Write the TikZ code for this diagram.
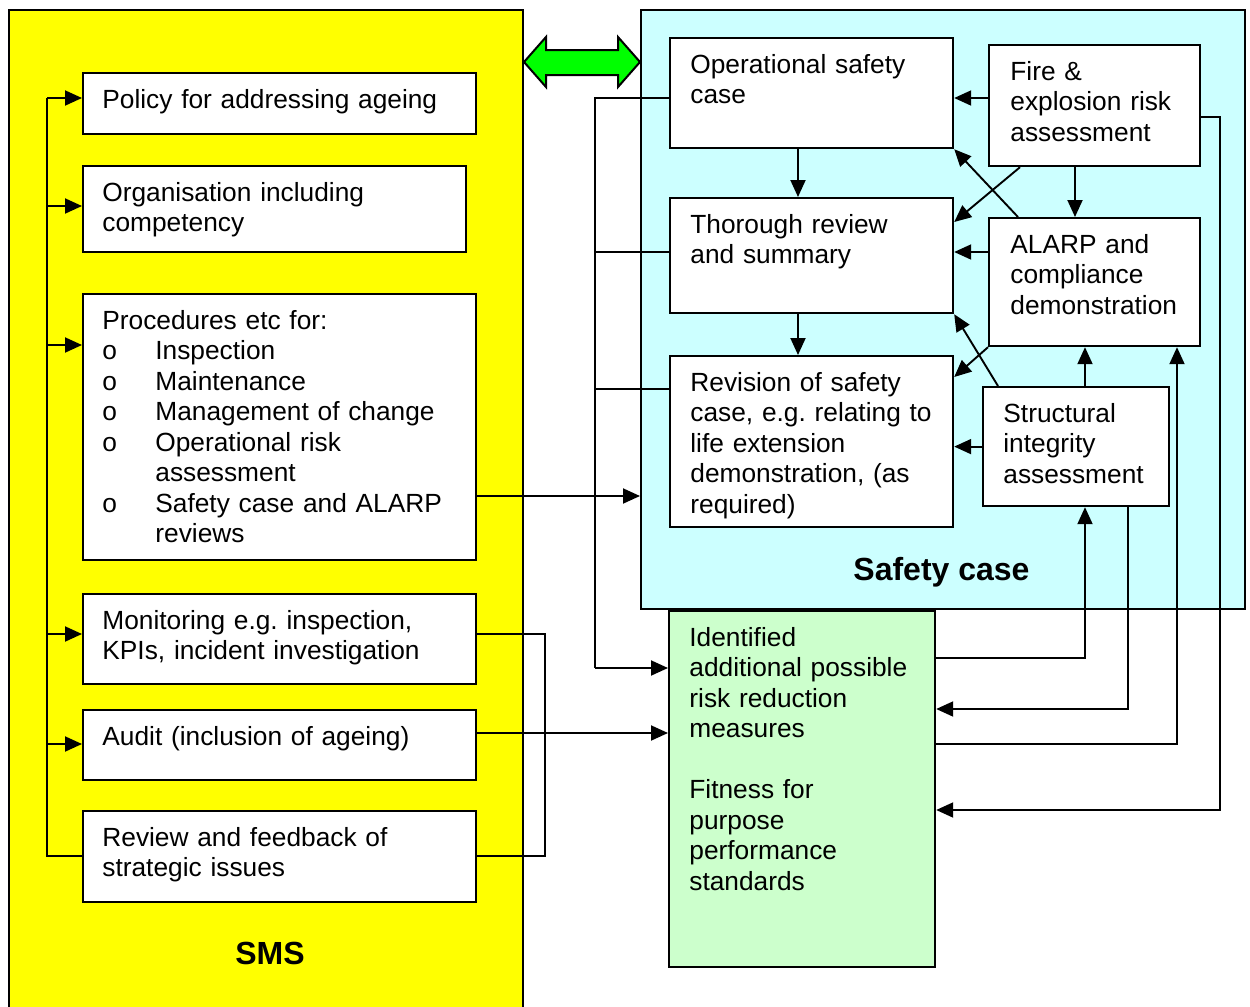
\documentclass[tikz,border=0pt]{standalone}
\usepackage{fontspec}
\setmainfont{Liberation Sans}
\usetikzlibrary{arrows.meta}
\definecolor{smsyellow}{HTML}{FFFF00}
\definecolor{caseblue}{HTML}{CCFFFF}
\definecolor{measgreen}{HTML}{CCFFCC}
\definecolor{linkgreen}{HTML}{00FF00}
\newcommand\procitem{\makebox[26.5pt][l]{o}}
\frenchspacing
\begin{document}
\begin{tikzpicture}[x=0.5pt,y=-0.5pt,
  every node/.style={font=\fontsize{13.15}{15.25}\selectfont},
  frame/.style={draw, line width=1pt, inner sep=0pt, anchor=north west},
  box/.style={draw, fill=white, line width=1.1pt, inner sep=0pt, anchor=north west},
  lbl/.style={anchor=base west, inner sep=0pt, align=left, text width=200pt},
  title/.style={font=\fontsize{16}{19}\selectfont\bfseries, inner sep=0pt, anchor=base},
  conn/.style={line width=0.95pt},
  arr/.style={conn, -{Triangle[length=8.5pt,width=7.5pt]}}
]
\useasboundingbox (0,0) rectangle (1250,1007);
\fill[white] (0,0) rectangle (1250,1007);
\clip (0,0) rectangle (1250,1007);

% containers
\node[frame, fill=smsyellow, minimum width=257pt, minimum height=520pt] (sms) at (8,9) {};
\node[frame, fill=caseblue, minimum width=302pt, minimum height=299.5pt] (sc) at (640,9) {};
\node[title] (sms-t) at (270,964) {SMS};
\node[title] (sc-t) at (941.5,580) {Safety case};

% two-way link between SMS and safety case
\draw[fill=linkgreen, line width=1pt, line join=miter]
  (524,62) -- (546,37) -- (546,50) -- (618,50) -- (618,37) -- (640,62)
  -- (618,87) -- (618,75) -- (546,75) -- (546,87) -- cycle;

% SMS elements
\node[box, minimum width=196.5pt, minimum height=30.5pt] (pol) at (82,72) {};
\node[box, minimum width=191.5pt, minimum height=43pt] (org) at (82,165) {};
\node[box, minimum width=196.5pt, minimum height=133pt] (proc) at (82,293) {};
\node[box, minimum width=196.5pt, minimum height=45pt] (mon) at (82,593) {};
\node[box, minimum width=196.5pt, minimum height=35pt] (aud) at (82,709) {};
\node[box, minimum width=196.5pt, minimum height=45.5pt] (rev) at (82,810) {};

% safety case elements
\node[box, minimum width=141.5pt, minimum height=55pt] (ops) at (669,37) {};
\node[box, minimum width=141.5pt, minimum height=57.5pt] (thr) at (669,197) {};
\node[box, minimum width=141.5pt, minimum height=85.5pt] (rvs) at (669,355) {};
\node[box, minimum width=105.5pt, minimum height=60.5pt] (fire) at (988,44) {};
\node[box, minimum width=105.5pt, minimum height=64pt] (alarp) at (988,217) {};
\node[box, minimum width=93pt, minimum height=59.5pt] (sia) at (982,386) {};
\node[box, fill=measgreen, minimum width=133pt, minimum height=178pt] (idm) at (668,610) {};

% left bus feeding the SMS elements
\coordinate (busT) at (47,98);
\coordinate (busB) at (47,856);
\draw[conn] (busT) -- (busB) -- (busB -| rev.west);
\draw[arr] (busT) -- (busT -| pol.west);
\draw[arr] (47,206) -- (47,206 -| org.west);
\draw[arr] (47,345) -- (47,345 -| proc.west);
\draw[arr] (47,634) -- (47,634 -| mon.west);
\draw[arr] (47,744) -- (47,744 -| aud.west);

% SMS outputs
\draw[conn] (mon.east |- 0,634) -- (545,634) -- (545,856) -- (rev.east |- 0,856);
\draw[arr] (aud.east |- 0,733) -- (idm.west |- 0,733);
\draw[arr] (proc.east |- 0,496) -- (sc.west |- 0,496);

% safety case documents feeding the measures
\draw[conn] (ops.west |- 0,98) -- (595,98) -- (595,668);
\draw[arr] (595,668) -- (idm.west |- 0,668);
\draw[conn] (thr.west |- 0,252) -- (595,252);
\draw[conn] (rvs.west |- 0,389) -- (595,389);

% links inside the safety case
\draw[arr] (ops.south -| 798,0) -- (thr.north -| 798,0);
\draw[arr] (thr.south -| 798,0) -- (rvs.north -| 798,0);
\draw[arr] (fire.west |- 0,98) -- (ops.east |- 0,98);
\draw[arr] (fire.south -| 1075,0) -- (alarp.north -| 1075,0);
\draw[arr] (fire.south -| 1020,0) -- (thr.east |- 0,222);
\draw[arr] (alarp.north -| 1018,0) -- (ops.south east);
\draw[arr] (alarp.west |- 0,252) -- (thr.east |- 0,252);
\draw[arr] (alarp.south west) -- (rvs.east |- 0,377);
\draw[arr] (sia.north -| 998,0) -- (thr.south east);
\draw[arr] (sia.north -| 1085,0) -- (alarp.south -| 1085,0);
\draw[arr] (sia.west) -- (sia.west -| rvs.east);

% feedback between measures and assessments
\draw[arr] (idm.east |- 0,658) -- (1085,658) -- (sia.south -| 1085,0);
\draw[arr] (sia.south -| 1128,0) -- (1128,709) -- (idm.east |- 0,709);
\draw[arr] (idm.east |- 0,744) -- (1177,744) -- (alarp.south -| 1177,0);
\draw[arr] (fire.east |- 0,117) -- (1220,117) -- (1220,810) -- (idm.east |- 0,810);

% texts
\node[lbl] (pol-t) at ([shift={(10pt,-18pt)}]pol.north west) {Policy for addressing ageing};
\node[lbl] (org-t) at ([shift={(10pt,-18pt)}]org.north west) {Organisation including\\competency};
\node[lbl] (proc-t) at ([shift={(10pt,-18pt)}]proc.north west) {Procedures etc for:\\
\procitem Inspection\\
\procitem Maintenance\\
\procitem Management of change\\
\procitem Operational risk\\
\hspace*{26.5pt}assessment\\
\procitem Safety case and ALARP\\
\hspace*{26.5pt}reviews};
\node[lbl] (mon-t) at ([shift={(10pt,-18pt)}]mon.north west) {Monitoring e.g. inspection,\\KPIs, incident investigation};
\node[lbl] (aud-t) at ([shift={(10pt,-18pt)}]aud.north west) {Audit (inclusion of ageing)};
\node[lbl] (rev-t) at ([shift={(10pt,-18pt)}]rev.north west) {Review and feedback of\\strategic issues};

\node[lbl] (ops-t) at ([shift={(10.5pt,-18pt)}]ops.north west) {Operational safety\\case};
\node[lbl] (thr-t) at ([shift={(10.5pt,-18pt)}]thr.north west) {Thorough review\\and summary};
\node[lbl] (rvs-t) at ([shift={(10.5pt,-18pt)}]rvs.north west) {Revision of safety\\case, e.g. relating to\\life extension\\demonstration, (as\\required)};
\node[lbl] (fire-t) at ([shift={(11pt,-18pt)}]fire.north west) {Fire \&\\explosion risk\\assessment};
\node[lbl] (alarp-t) at ([shift={(11pt,-18pt)}]alarp.north west) {ALARP and\\compliance\\demonstration};
\node[lbl] (sia-t) at ([shift={(10.5pt,-18pt)}]sia.north west) {Structural\\integrity\\assessment};
\node[lbl] (idm-t) at ([shift={(10.5pt,-18pt)}]idm.north west) {Identified\\additional possible\\risk reduction\\measures\\[15.25pt]Fitness for\\purpose\\performance\\standards};
\end{tikzpicture}
\end{document}
